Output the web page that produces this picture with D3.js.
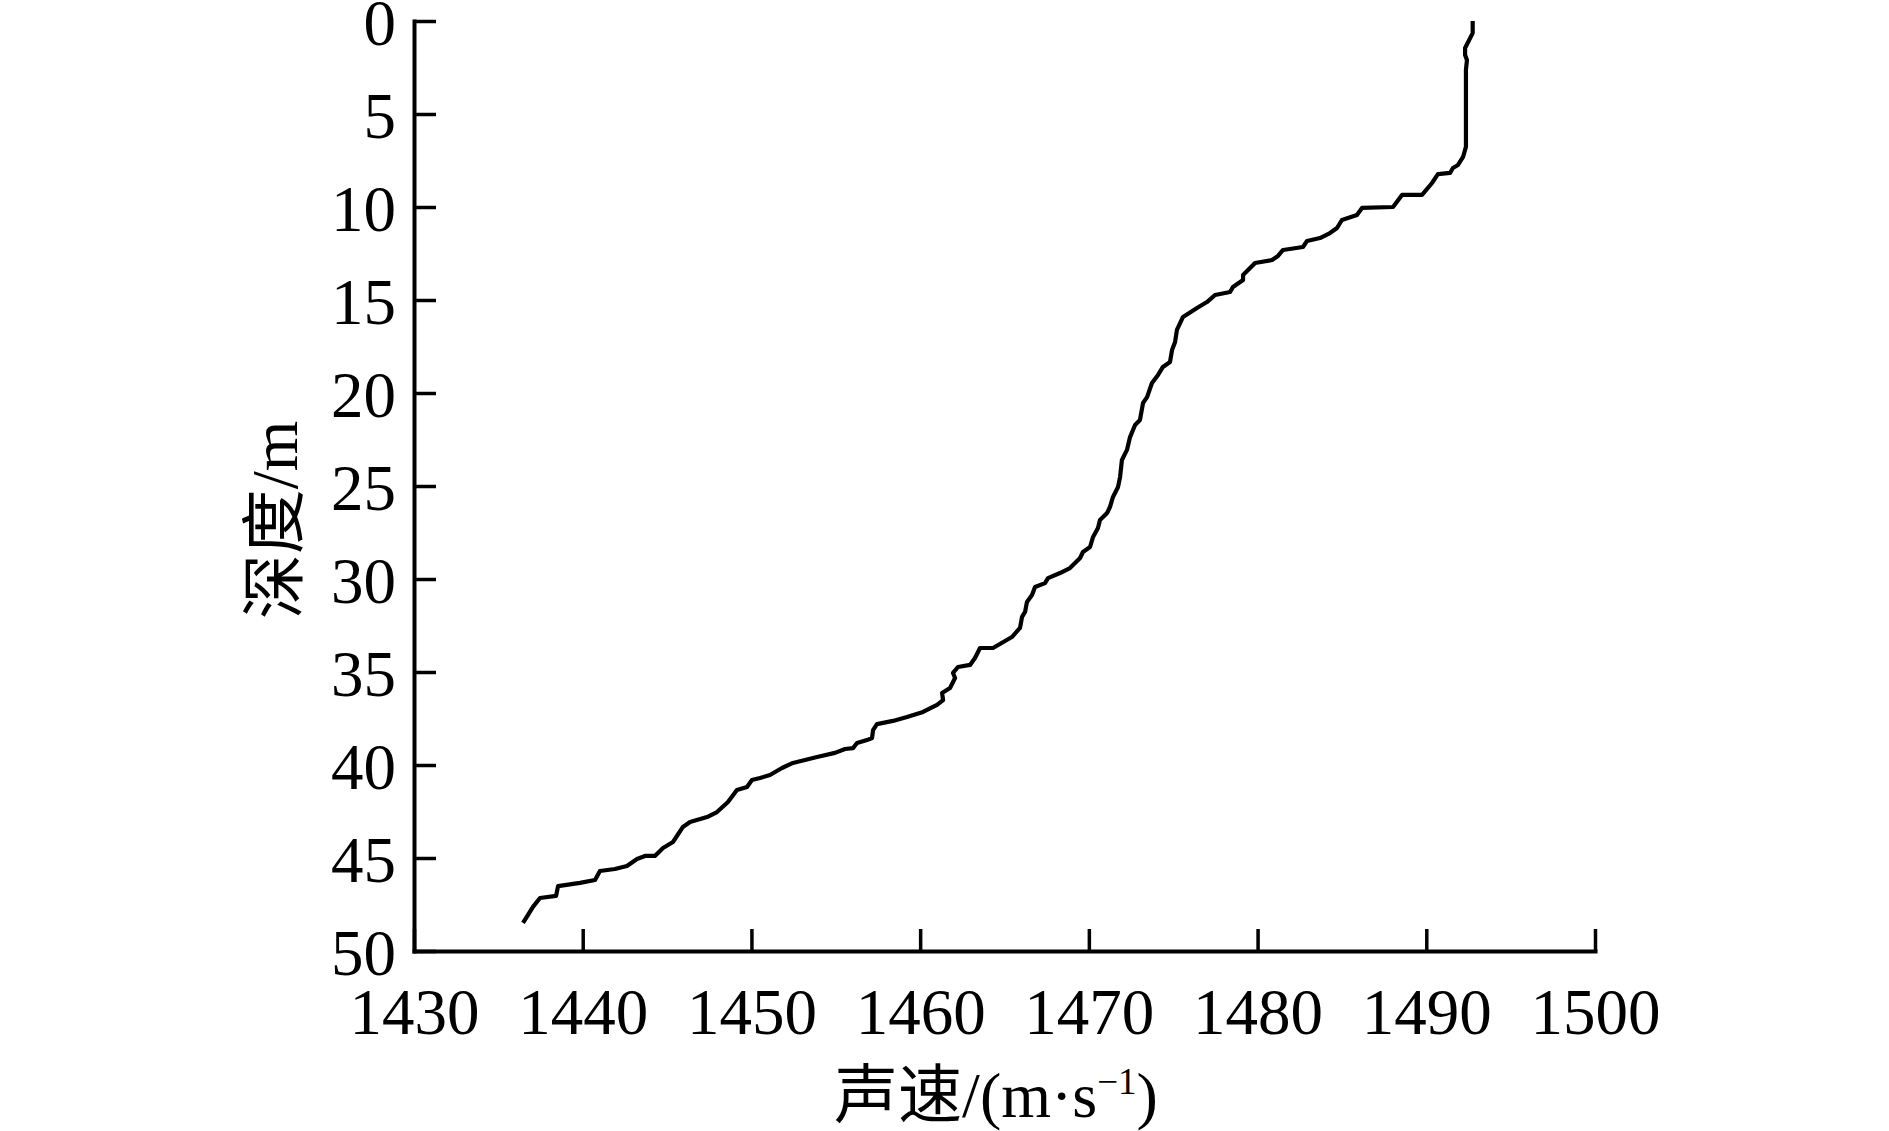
<!DOCTYPE html>
<html>
<head>
<meta charset="utf-8">
<script src="https://cdn.jsdelivr.net/npm/d3@7/dist/d3.min.js"></script>
<style>
  html, body { margin: 0; padding: 0; background: #fff; overflow: hidden; }
  svg { display: block; }
</style>
</head>
<body>
<svg id="chart" width="1889" height="1131"></svg>
<script>
// Sound speed (m/s) vs depth (m)
const speed = [1492.75,1492.75,1492.30,1492.30,1492.41,1492.35,1492.35,1492.18,1491.88,1491.58,
  1491.41,1490.69,1490.34,1489.75,1488.56,1488.03,1486.19,1485.89,1485.00,1484.71,
  1484.29,1483.70,1482.93,1482.69,1481.51,1481.21,1480.86,1479.85,1479.14,1479.14,
  1478.54,1478.37,1477.48,1477.00,1476.41,1475.58,1475.22,1475.11,1474.93,1474.81,
  1474.39,1474.10,1473.74,1473.45,1473.21,1473.03,1472.74,1472.44,1472.26,1471.96,
  1471.85,1471.73,1471.43,1471.25,1471.08,1470.66,1470.54,1470.25,1470.07,1469.65,
  1469.48,1468.88,1468.29,1467.58,1467.40,1466.81,1466.63,1466.33,1466.22,1466.04,
  1465.92,1465.44,1464.32,1463.55,1463.25,1462.96,1462.24,1461.95,1462.07,1461.77,
  1461.30,1461.36,1461.00,1460.17,1459.22,1458.39,1457.44,1457.21,1457.15,1456.85,
  1456.26,1456.02,1455.55,1454.95,1453.89,1452.46,1451.81,1451.10,1450.51,1450.03,
  1449.74,1449.14,1448.61,1447.96,1447.37,1446.36,1445.94,1445.35,1444.76,1444.28,
  1443.69,1443.22,1442.62,1441.91,1441.02,1440.73,1439.84,1438.54,1438.42,1437.47,
  1437.05,1436.76,1436.46];
const depth = [0.00,0.65,1.45,1.83,2.10,2.63,6.77,7.31,7.74,7.90,
  8.17,8.23,8.71,9.35,9.35,10.00,10.05,10.43,10.70,11.13,
  11.40,11.67,11.83,12.15,12.31,12.63,12.85,13.01,13.66,13.92,
  14.30,14.57,14.73,15.11,15.43,15.91,16.61,17.26,17.69,18.33,
  18.60,19.03,19.46,20.22,20.54,21.45,21.72,22.37,23.06,23.60,
  24.52,25.05,25.59,26.13,26.45,26.83,27.26,27.74,28.28,28.55,
  28.87,29.41,29.68,29.95,30.22,30.43,30.86,31.24,31.77,32.04,
  32.63,33.12,33.71,33.71,34.25,34.62,34.73,35.05,35.32,35.86,
  36.13,36.51,36.77,37.15,37.42,37.63,37.80,38.12,38.55,38.66,
  38.82,39.09,39.14,39.35,39.57,39.89,40.16,40.54,40.70,40.81,
  41.18,41.34,41.99,42.53,42.80,43.06,43.33,44.14,44.46,44.89,
  44.89,45.05,45.43,45.59,45.70,46.18,46.34,46.51,47.04,47.15,
  47.63,48.06,48.49];
const xTicks = [1430,1440,1450,1460,1470,1480,1490,1500];
const yTicks = [0,5,10,15,20,25,30,35,40,45,50];
const xTitleMain = "声速/(m·s";
const xTitleSup = "−1";
const xTitleEnd = ")";
const yTitle = "深度/m";

const svg = d3.select("#chart");
const x = d3.scaleLinear().domain([1430, 1500]).range([414, 1595]);
const y = d3.scaleLinear().domain([0, 50]).range([21, 951]);

const FONT = "'Liberation Serif','Times New Roman','Noto Sans CJK SC',serif";

const gx = svg.append("g").attr("transform", "translate(0,951)")
  .call(d3.axisBottom(x).tickValues(xTicks).tickFormat(d3.format("d"))
    .tickSize(-22).tickSizeOuter(0).tickPadding(37));
const gy = svg.append("g").attr("transform", "translate(414,0)")
  .call(d3.axisLeft(y).tickValues(yTicks).tickFormat(d3.format("d"))
    .tickSize(-22).tickSizeOuter(0).tickPadding(18));

[gx, gy].forEach(g => {
  g.select(".domain").attr("stroke", "#000").attr("stroke-width", 4).attr("stroke-linecap", "square");
  g.selectAll(".tick line").attr("stroke", "#000").attr("stroke-width", 3.5);
  g.selectAll(".tick text").attr("fill", "#000")
    .style("font-family", FONT).style("font-size", "65px");
});
gy.selectAll(".tick text").attr("dy", "0.36em");

const line = d3.line().x((d, i) => x(speed[i])).y((d, i) => y(depth[i]));
svg.append("path").datum(depth)
  .attr("d", line)
  .attr("fill", "none").attr("stroke", "#000").attr("stroke-width", 4.2)
  .attr("stroke-linejoin", "round");

// x title
const xt = svg.append("text")
  .attr("x", 996).attr("y", 1117)
  .attr("text-anchor", "middle")
  .style("font-family", FONT).style("font-size", "64px").attr("fill", "#000");
xt.append("tspan").text(xTitleMain);
xt.append("tspan").attr("dy", "-23").style("font-size", "37px").text(xTitleSup);
xt.append("tspan").attr("dy", "23").text(xTitleEnd);

// y title
svg.append("text")
  .attr("transform", "translate(297,520) rotate(-90)")
  .attr("text-anchor", "middle")
  .style("font-family", FONT).style("font-size", "65px").attr("fill", "#000")
  .text(yTitle);
</script>
</body>
</html>
